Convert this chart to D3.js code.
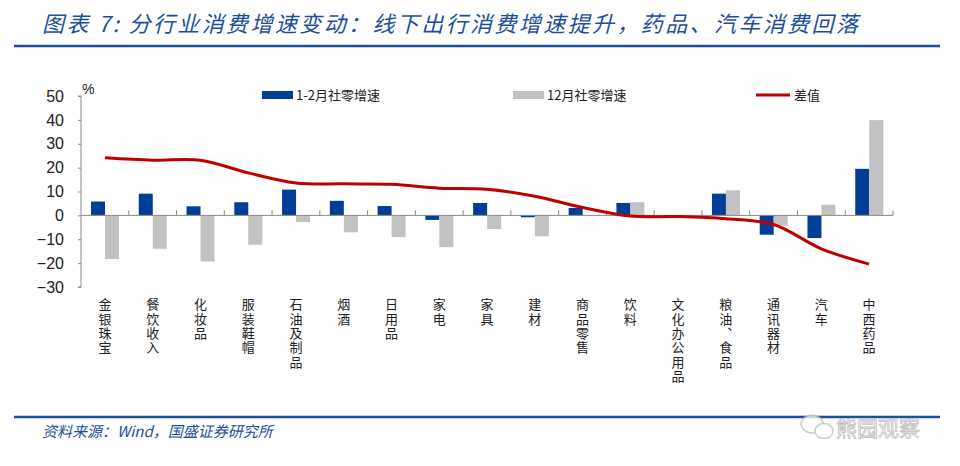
<!DOCTYPE html>
<html>
<head>
<meta charset="utf-8">
<script src="https://cdn.jsdelivr.net/npm/d3@7"></script>
<style>
  body { margin: 0; background: #fff; }
  svg { display: block; }
</style>
</head>
<body>
<svg id="chart" width="960" height="466"></svg>
<script>
// categories and values
const categories = ['金银珠宝', '餐饮收入', '化妆品', '服装鞋帽', '石油及制品', '烟酒', '日用品', '家电', '家具',
  '建材', '商品零售', '饮料', '文化办公用品', '粮油、食品', '通讯器材', '汽车', '中西药品']
const janFeb = [5.8, 9.1, 3.8, 5.5, 10.8, 6.1, 3.9, -1.9, 5.2, -0.8, 3.1, 5.2, -0.3, 9.1, -8.1, -9.5, 19.5]
const dec = [-18.3, -14.0, -19.3, -12.3, -2.8, -7.1, -9.1, -13.3, -5.7, -8.8, -0.2, 5.5, 0.2, 10.5, -4.3, 4.5, 39.9]
const diff = [24.1, 23.1, 23.1, 17.8, 13.6, 13.2, 13.0, 11.4, 10.9, 8.0, 3.3, -0.3, -0.5, -1.4, -3.8, -14.0, -20.4]
const seriesNames = ['1-2月社零增速', '12月社零增速', '差值']
const yTicks = [-30, -20, -10, 0, 10, 20, 30, 40, 50]

const blue = '#003e97', gray = '#c2c2c2', red = '#c00000', navy = '#1d4f9c'
const cjk = '"Noto Sans CJK SC", sans-serif'

const svg = d3.select('#chart')

// title + rule
svg.append('text')
  .attr('x', 42).attr('y', 32)
  .attr('textLength', 816)
  .style('font-family', cjk).style('font-size', '22px').style('font-style', 'italic')
  .style('fill', navy)
  .text('图表 7:  分行业消费增速变动：线下出行消费增速提升，药品、汽车消费回落')
svg.append('line').attr('x1', 14).attr('x2', 940).attr('y1', 46).attr('y2', 46)
  .style('stroke', navy).style('stroke-width', 2.5)

const x = d3.scaleBand().domain(categories).range([81, 893]).paddingInner(0).paddingOuter(0)
const x1 = d3.scaleBand().domain([0, 1]).range([10, 38])
const y = d3.scaleLinear().domain([-30, 50]).range([287, 96])

// y axis
const yAxis = svg.append('g').attr('transform', 'translate(81,0)')
  .call(d3.axisLeft(y).tickValues(yTicks).tickSize(3).tickPadding(14).tickFormat(d3.format('d')))
yAxis.select('.domain').attr('d', `M-3,${y(50)}H0V${y(-30)}H-3`).style('stroke', '#888')
yAxis.selectAll('.tick line').style('stroke', '#888')
yAxis.selectAll('.tick text').style('font-family', 'Arial, "Liberation Sans", sans-serif')
  .style('font-size', '16px').style('fill', '#222')

svg.append('text').attr('x', 82).attr('y', 94)
  .style('font-family', 'Arial, "Liberation Sans", sans-serif').style('font-size', '14px').style('fill', '#222')
  .text('%')

// bars
const bars = svg.append('g')
const series = [janFeb, dec]
const colors = [blue, gray]
series.forEach((vals, s) => {
  bars.selectAll('rect.s' + s)
    .data(vals)
    .join('rect')
    .attr('class', 's' + s)
    .attr('x', (d, i) => x(categories[i]) + x1(s))
    .attr('width', x1.bandwidth())
    .attr('y', d => y(Math.max(0, d)))
    .attr('height', d => Math.abs(y(d) - y(0)))
    .style('fill', colors[s])
})

// zero axis with upward ticks
const xAxis = svg.append('g')
xAxis.append('line').attr('x1', 81).attr('x2', 893).attr('y1', y(0)).attr('y2', y(0))
  .style('stroke', '#888')
xAxis.selectAll('line.tk')
  .data(categories.slice(1).map(c => x(c)).concat([893]))
  .join('line').attr('class', 'tk')
  .attr('x1', d => d).attr('x2', d => d)
  .attr('y1', y(0)).attr('y2', y(0) - 5)
  .style('stroke', '#888')

// difference line
const line = d3.line()
  .x((d, i) => x(categories[i]) + x.bandwidth() / 2)
  .y(d => y(d))
  .curve(d3.curveCatmullRom.alpha(0.5))
svg.append('path').datum(diff)
  .attr('d', line)
  .style('fill', 'none').style('stroke', red).style('stroke-width', 3)

// vertical category labels (vertical writing mode)
svg.append('g').selectAll('text')
  .data(categories)
  .join('text')
  .attr('x', c => x(c) + x.bandwidth() / 2)
  .attr('y', 298)
  .style('writing-mode', 'vertical-rl')
  .style('text-orientation', 'upright')
  .style('letter-spacing', '1.3px')
  .style('font-family', cjk).style('font-size', '13px').style('fill', '#222')
  .text(c => c)

// legend
const leg = svg.append('g').style('font-family', cjk).style('font-size', '13px').style('fill', '#222')
leg.append('rect').attr('x', 262).attr('y', 91).attr('width', 31).attr('height', 8).style('fill', blue)
leg.append('text').attr('x', 296).attr('y', 100).text(seriesNames[0])
leg.append('rect').attr('x', 513).attr('y', 91).attr('width', 31).attr('height', 8).style('fill', gray)
leg.append('text').attr('x', 547).attr('y', 100).text(seriesNames[1])
leg.append('line').attr('x1', 756).attr('x2', 790).attr('y1', 95).attr('y2', 95)
  .style('stroke', red).style('stroke-width', 3)
leg.append('text').attr('x', 794).attr('y', 100).text(seriesNames[2])

// footer
svg.append('line').attr('x1', 14).attr('x2', 940).attr('y1', 417).attr('y2', 417)
  .style('stroke', navy).style('stroke-width', 2.5)
svg.append('text').attr('x', 42).attr('y', 437)
  .style('font-family', cjk).style('font-size', '15px').style('font-style', 'italic')
  .style('fill', navy)
  .text('资料来源：Wind，国盛证券研究所')

// watermark
const wm = svg.append('g').style('opacity', 0.75)
wm.append('ellipse').attr('cx', 812).attr('cy', 424).attr('rx', 11).attr('ry', 9)
  .style('fill', '#fff').style('stroke', '#bbb').style('stroke-width', 1.5)
wm.append('ellipse').attr('cx', 824).attr('cy', 431).attr('rx', 9).attr('ry', 7.5)
  .style('fill', '#fff').style('stroke', '#bbb').style('stroke-width', 1.5)
wm.append('text').attr('x', 836).attr('y', 436)
  .style('font-family', cjk).style('font-size', '21px').style('fill', '#fff')
  .style('stroke', '#aaa').style('stroke-width', 0.8)
  .text('熊园观察')
</script>
</body>
</html>
